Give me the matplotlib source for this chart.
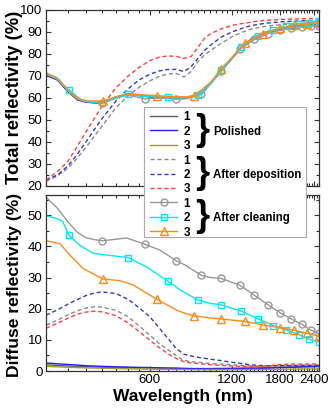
import matplotlib
matplotlib.use('Agg')
import matplotlib.pyplot as plt
from matplotlib.lines import Line2D
from matplotlib.patches import Rectangle
from matplotlib.ticker import FixedLocator, NullFormatter

plt.rcParams['font.family'] = ['Liberation Sans', 'DejaVu Sans']

# ---------------- data ----------------
wl_base = [250, 275, 300, 325, 350, 375, 400, 450, 500, 550, 600, 650, 700, 750, 800,
           850, 900, 950, 1000, 1100, 1200, 1300, 1400, 1500, 1600, 1800, 2000, 2200, 2500]

# Total reflectivity - polished
tot_pol1 = [70.8, 68.6, 63.4, 59.5, 58.3, 57.9, 57.8, 60.4, 61.8, 61.2, 60.6, 60.4, 60.2, 60.0, 60.1,
            60.5, 61.3, 63.5, 66.6, 72.5, 78.0, 83.0, 86.2, 88.0, 89.4, 90.9, 91.8, 92.3, 92.7]
tot_pol2 = [70.3, 68.2, 63.0, 59.2, 58.1, 57.8, 57.8, 60.2, 61.7, 61.1, 60.5, 60.3, 60.1, 59.9, 60.0,
            60.4, 61.2, 63.4, 66.5, 72.5, 78.0, 83.1, 86.4, 88.3, 89.8, 91.5, 92.6, 93.2, 93.6]
tot_pol3 = [71.0, 68.9, 63.6, 59.7, 58.5, 58.0, 57.9, 60.5, 62.0, 61.3, 60.7, 60.5, 60.3, 60.1, 60.2,
            60.6, 61.4, 63.6, 66.8, 72.8, 78.3, 83.4, 86.6, 88.6, 90.0, 91.6, 92.7, 93.4, 93.9]
# Total reflectivity - after deposition
tot_dep1 = [22.2, 24.5, 28.0, 32.6, 37.5, 42.5, 47.0, 55.5, 61.0, 65.0, 67.8, 69.8, 71.0, 71.2, 69.6,
            72.0, 76.5, 79.5, 81.5, 85.0, 87.8, 89.8, 91.2, 92.0, 92.6, 93.3, 93.7, 93.9, 94.0]
tot_dep2 = [22.7, 25.0, 29.0, 34.3, 40.0, 45.5, 50.5, 58.5, 64.2, 68.3, 70.8, 72.3, 73.0, 73.0, 72.0,
            74.2, 78.0, 81.5, 84.0, 87.8, 90.0, 91.6, 92.8, 93.5, 94.0, 94.6, 94.9, 95.1, 95.2]
tot_dep3 = [22.7, 26.5, 31.0, 37.9, 44.5, 50.5, 56.0, 64.5, 70.0, 74.0, 77.0, 78.6, 79.1, 78.9, 78.0,
            78.8, 83.0, 87.0, 89.2, 91.5, 93.0, 93.8, 94.4, 95.0, 95.3, 95.7, 95.9, 96.0, 96.0]
# Diffuse reflectivity - polished
dif_pol1 = [2.0, 1.8, 1.6, 1.5, 1.4, 1.3, 1.2, 1.1, 1.05, 1.0, 1.0, 0.95, 0.9, 0.85, 0.8,
            0.8, 0.8, 0.8, 0.8, 0.85, 0.9, 0.95, 1.0, 1.0, 1.1, 1.2, 1.3, 1.35, 1.4]
dif_pol2 = [2.6, 2.3, 2.1, 1.9, 1.7, 1.6, 1.5, 1.35, 1.25, 1.15, 1.1, 1.0, 0.95, 0.9, 0.8,
            0.75, 0.7, 0.65, 0.6, 0.65, 0.7, 0.75, 0.8, 0.8, 0.9, 1.1, 1.2, 1.35, 1.5]
dif_pol3 = [1.5, 1.35, 1.2, 1.1, 1.0, 0.95, 0.9, 0.8, 0.7, 0.65, 0.6, 0.55, 0.55, 0.5, 0.5,
            0.45, 0.45, 0.4, 0.4, 0.4, 0.45, 0.45, 0.5, 0.5, 0.5, 0.55, 0.6, 0.65, 0.7]
# Diffuse reflectivity - after deposition
dif_dep1 = [14.7, 16.3, 18.0, 19.3, 20.2, 20.6, 20.5, 19.5, 17.4, 14.4, 11.5, 8.8, 6.8, 4.9, 3.4,
            3.0, 2.8, 2.6, 2.4, 2.2, 2.0, 1.8, 1.6, 1.5, 1.5, 1.7, 1.8, 1.8, 1.9]
dif_dep2 = [17.9, 19.6, 21.4, 22.9, 24.2, 25.0, 25.4, 24.9, 23.0, 20.2, 17.4, 13.8, 10.4, 7.2, 5.4,
            4.8, 4.4, 4.1, 3.8, 3.3, 2.8, 2.4, 2.0, 1.8, 1.7, 1.7, 1.7, 1.8, 1.8]
dif_dep3 = [13.7, 15.3, 16.9, 18.2, 18.9, 19.2, 19.0, 17.8, 15.4, 12.6, 9.9, 7.5, 5.5, 4.0, 3.0,
            2.6, 2.4, 2.2, 2.0, 1.8, 1.6, 1.5, 1.5, 1.5, 1.6, 2.1, 2.2, 2.2, 2.3]

# After cleaning (own wavelength grids; markers at the listed wavelengths)
wl_cl1 = [250, 275, 300, 325, 350, 375, 402, 440, 494, 575, 654, 750, 808, 927, 1000,
          1098, 1285, 1450, 1630, 1800, 1980, 2160, 2330, 2490]
mk_cl1 = [402, 575, 750, 927, 1098, 1285, 1450, 1630, 1800, 1980, 2160, 2330, 2490]
tot_cl1 = [70.8, 68.5, 63.5, 59.5, 58.3, 58.0, 57.6, 59.4, 61.5, 59.6, 60.0, 59.5, 59.6, 61.6, 66.3,
           72.3, 82.3, 86.6, 89.3, 90.8, 91.8, 92.3, 92.6, 92.8]
dif_cl1 = [55.8, 52.3, 48.0, 44.6, 42.8, 42.2, 41.8, 42.2, 42.7, 40.7, 38.8, 35.4, 34.0, 30.7, 30.0,
           29.7, 27.5, 24.3, 21.2, 18.7, 16.7, 15.0, 13.2, 12.1]

wl_cl2 = [250, 273, 288, 303, 332, 372, 429, 500, 585, 700, 776, 900, 1000, 1098, 1300,
          1498, 1700, 1900, 2120, 2300, 2490]
mk_cl2 = [303, 500, 700, 900, 1098, 1300, 1498, 1700, 1900, 2120, 2300, 2490]
tot_cl2 = [71.3, 69.4, 66.0, 63.8, 59.6, 58.0, 59.2, 61.6, 60.7, 60.4, 60.1, 61.3, 66.5, 72.6, 83.2,
           88.3, 90.8, 92.5, 93.8, 94.3, 95.2]
dif_cl2 = [49.8, 49.0, 48.0, 43.6, 40.4, 37.8, 37.1, 36.4, 33.4, 28.8, 26.0, 22.8, 21.7, 21.2, 19.2,
           16.7, 14.6, 13.1, 11.6, 10.2, 9.4]

wl_cl3 = [250, 281, 306, 342, 405, 466, 522, 637, 750, 808, 872, 1000, 1098, 1340, 1560,
          1800, 2020, 2250, 2490]
mk_cl3 = [405, 637, 872, 1098, 1340, 1560, 1800, 2020, 2250, 2490]
tot_cl3 = [71.5, 68.0, 62.5, 58.6, 58.6, 61.0, 61.8, 61.0, 60.6, 60.5, 61.0, 67.0, 73.4, 84.8, 89.2,
           91.7, 93.0, 93.7, 94.3]
dif_cl3 = [41.8, 40.9, 37.2, 32.9, 29.5, 29.0, 27.6, 23.0, 19.6, 18.5, 17.7, 17.0, 16.7, 15.9, 14.8,
           13.9, 13.1, 12.1, 11.2]

x_major = [600, 1200, 1800, 2400]
x_labels = ['600', '1200', '1800', '2400']
group_names = ['Polished', 'After deposition', 'After cleaning']
row_labels = ['1', '2', '3']

# ---------------- styles ----------------
dash = (0, (3, 2))
styles = [
    dict(color='#606060', ls='-', lw=1.0),
    dict(color='#2020ff', ls='-', lw=1.0),
    dict(color='#a09a30', ls='-', lw=1.0),
    dict(color='#8c8c8c', ls=dash, lw=1.0),
    dict(color='#3a3ac0', ls=dash, lw=1.0),
    dict(color='#ff4040', ls=dash, lw=1.0),
    dict(color='#999999', ls='-', lw=1.0, marker='o', ms=5, mfc='none', mew=1.0),
    dict(color='#00e8ff', ls='-', lw=1.0, marker='s', ms=5, mfc='none', mew=1.0),
    dict(color='#ff8c1a', ls='-', lw=1.0, marker='^', ms=5.5, mfc='none', mew=1.0),
]

W, H = 332, 412
fig = plt.figure(figsize=(W / 100, H / 100), dpi=100)
ax1 = fig.add_axes([46 / W, 1 - 186 / H, 273 / W, 176 / H])
ax2 = fig.add_axes([46 / W, 1 - 371 / H, 273 / W, 176 / H])

base_series = [(wl_base, tot_pol1, dif_pol1), (wl_base, tot_pol2, dif_pol2), (wl_base, tot_pol3, dif_pol3),
               (wl_base, tot_dep1, dif_dep1), (wl_base, tot_dep2, dif_dep2), (wl_base, tot_dep3, dif_dep3)]
for (wl, t, d), st in zip(base_series, styles[:6]):
    ax1.plot(wl, t, **st)
    ax2.plot(wl, d, **st)

clean_series = [(wl_cl1, mk_cl1, tot_cl1, dif_cl1), (wl_cl2, mk_cl2, tot_cl2, dif_cl2),
                (wl_cl3, mk_cl3, tot_cl3, dif_cl3)]
for (wl, mk, t, d), st in zip(clean_series, styles[6:]):
    me = [wl.index(m) for m in mk]
    ax1.plot(wl, t, markevery=me, **st)
    ax2.plot(wl, d, markevery=me, **st)

minor_x = [v for v in range(250, 2501, 50) if v not in x_major]
for ax in (ax1, ax2):
    ax.set_xscale('log')
    ax.set_xlim(250, 2500)
    ax.xaxis.set_major_locator(FixedLocator(x_major))
    ax.xaxis.set_minor_locator(FixedLocator(minor_x))
    ax.xaxis.set_minor_formatter(NullFormatter())
    ax.tick_params(which='both', direction='in', top=True, right=True, labelsize=9.5,
                   pad=2.5, width=0.8, color='#333333')
    ax.tick_params(which='major', length=3.5)
    ax.tick_params(which='minor', length=2)
    for sp in ax.spines.values():
        sp.set_color('#333333')
        sp.set_linewidth(0.9)

ax1.set_ylim(20, 100)
ax1.set_yticks(range(20, 101, 10))
ax1.set_yticks(range(25, 100, 10), minor=True)
ax1.xaxis.set_major_formatter(NullFormatter())

ax2.set_ylim(0, 56.5)
ax2.set_yticks(range(0, 51, 10))
ax2.set_yticks(range(5, 56, 10), minor=True)
ax2.set_xticklabels(x_labels)

fig.text(15 / W, 1 - 97 / H, 'Total reflectivity (%)', rotation=90, ha='center', va='center',
         fontsize=13.2, fontweight='bold')
fig.text(15 / W, 1 - 285 / H, 'Diffuse reflectivity (%)', rotation=90, ha='center', va='center',
         fontsize=12.6, fontweight='bold')
fig.text(182.5 / W, 1 - 397 / H, 'Wavelength (nm)', ha='center', va='center',
         fontsize=12.5, fontweight='bold')

# ---------------- legend ----------------
def fx(px):
    return px / W


def fy(py):
    return 1 - py / H


fig.add_artist(Rectangle((fx(144), fy(237)), fx(306) - fx(144), fy(107) - fy(237),
                         transform=fig.transFigure, facecolor='white', edgecolor='#aaaaaa',
                         lw=0.8, zorder=10))
for i, st in enumerate(styles):
    y = 116 + i * 14.4
    kw = dict(st)
    ln = Line2D([fx(150), fx(163.5), fx(177)], [fy(y)] * 3, transform=fig.transFigure,
                markevery=[1], zorder=11, **kw)
    fig.add_artist(ln)
    fig.text(fx(187), fy(y), row_labels[i % 3], ha='center', va='center_baseline',
             fontsize=8.5, fontweight='bold', zorder=11)
for g, name in enumerate(group_names):
    yc = 116 + (3 * g + 1) * 14.4
    fig.text(fx(202), fy(yc), '}', ha='center', va='center', fontsize=26,
             fontweight='bold', zorder=11)
    fig.text(fx(213), fy(yc), name, ha='left', va='center_baseline', fontsize=8.3,
             fontweight='bold', zorder=11)

fig.savefig('out.png', dpi=100)
